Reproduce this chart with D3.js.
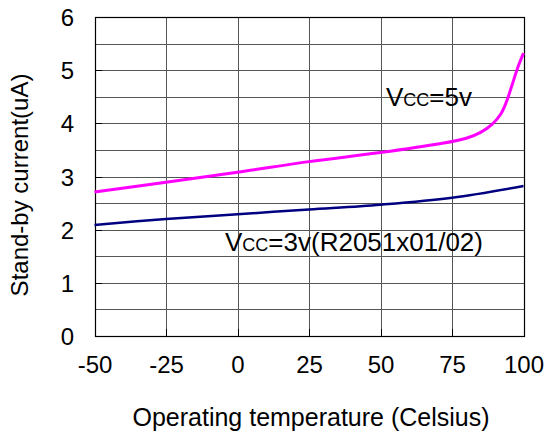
<!DOCTYPE html>
<meta charset="utf-8">
<style>
body { margin: 0; background: #fff; }
text { font-family: "Liberation Sans", Arial, sans-serif; fill: #000; }
.grid line { stroke: #555; stroke-width: 1px; shape-rendering: crispEdges; }
</style>
<body>
<script src="https://cdn.jsdelivr.net/npm/d3@7"></script>
<script>
var xTicks = [-50, -25, 0, 25, 50, 75, 100];
var yTicks = [0, 1, 2, 3, 4, 5, 6];

var temp5v = [-50, -25, 0, 25, 50, 70, 80, 85, 89, 92, 94, 96, 98, 100];
var cur5v  = [2.71, 2.89, 3.08, 3.28, 3.45, 3.61, 3.72, 3.83, 3.98, 4.17, 4.40, 4.72, 5.05, 5.32];

var temp3v = [-50, -25, 0, 25, 50, 75, 100];
var cur3v  = [2.09, 2.20, 2.29, 2.38, 2.47, 2.60, 2.82];

var width = 547, height = 433;
var pLeft = 94.5, pRight = 523.5, pTop = 17, pBottom = 336;

var svg = d3.select("body").append("svg")
    .attr("width", width)
    .attr("height", height);

var x = d3.scaleLinear().domain([-50, 100]).range([pLeft, pRight]);
var y = d3.scaleLinear().domain([0, 6]).range([pBottom, pTop]);

// grid: every half unit and every 25 degrees
var grid = svg.append("g").attr("class", "grid");
grid.selectAll(".h")
    .data(d3.range(0.5, 6, 0.5))
  .enter().append("line")
    .attr("x1", pLeft).attr("x2", pRight)
    .attr("y1", function(d) { return Math.round(y(d)) + 0.5; })
    .attr("y2", function(d) { return Math.round(y(d)) + 0.5; });
grid.selectAll(".v")
    .data(xTicks.slice(1, -1))
  .enter().append("line")
    .attr("y1", pTop).attr("y2", pBottom)
    .attr("x1", function(d) { return Math.round(x(d)) + 0.5; })
    .attr("x2", function(d) { return Math.round(x(d)) + 0.5; });

// small inner ticks
svg.append("g").selectAll("line")
    .data(yTicks.slice(1, -1))
  .enter().append("line")
    .attr("x1", pLeft).attr("x2", pLeft + 7)
    .attr("y1", function(d) { return Math.round(y(d)) + 0.5; })
    .attr("y2", function(d) { return Math.round(y(d)) + 0.5; })
    .attr("stroke", "#000").attr("shape-rendering", "crispEdges");
svg.append("g").selectAll("line")
    .data(xTicks.slice(1, -1))
  .enter().append("line")
    .attr("y1", pBottom).attr("y2", pBottom - 7)
    .attr("x1", function(d) { return Math.round(x(d)) + 0.5; })
    .attr("x2", function(d) { return Math.round(x(d)) + 0.5; })
    .attr("stroke", "#000").attr("shape-rendering", "crispEdges");

svg.append("rect")
    .attr("x", Math.round(pLeft) + 0.5).attr("y", pTop + 0.5)
    .attr("width", Math.round(pRight) - Math.round(pLeft))
    .attr("height", pBottom - pTop)
    .attr("fill", "none").attr("stroke", "#000").attr("stroke-width", 1.2);

// axes
var yAxis = svg.append("g")
    .attr("transform", "translate(" + 74 + ",0)")
    .call(d3.axisLeft(y).tickValues(yTicks).tickFormat(String).tickSize(0).tickPadding(0));
var xAxis = svg.append("g")
    .attr("transform", "translate(0," + 373 + ")")
    .call(d3.axisBottom(x).tickValues(xTicks).tickFormat(String).tickSize(0).tickPadding(0));
[xAxis, yAxis].forEach(function(a) {
  a.select(".domain").remove();
  a.attr("font-size", 24).attr("font-family", "Liberation Sans, Arial, sans-serif");
  a.selectAll("text").attr("fill", "#000");
});
xAxis.selectAll("text").attr("dy", 0);
yAxis.selectAll("text").attr("dy", "0.36em");

// curves
var line = d3.line()
    .x(function(d) { return x(d[0]); })
    .y(function(d) { return y(d[1]); })
    .curve(d3.curveCatmullRom);

svg.append("path")
    .datum(d3.zip(temp3v, cur3v))
    .attr("d", line)
    .attr("fill", "none").attr("stroke", "#000080").attr("stroke-width", 2.5);

svg.append("path")
    .datum(d3.zip(temp5v, cur5v))
    .attr("d", line)
    .attr("fill", "none").attr("stroke", "#ff00ff").attr("stroke-width", 3);

// labels
function label(px, py, tail) {
  var t = svg.append("text").attr("x", px).attr("y", py).attr("font-size", 26);
  t.append("tspan").text("V");
  t.append("tspan").attr("font-size", 18).text("CC");
  t.append("tspan").text(tail);
}
label(386, 106, "=5v");
label(225, 251, "=3v(R2051x01/02)");

svg.append("text")
    .attr("x", 311).attr("y", 426)
    .attr("text-anchor", "middle").attr("font-size", 25)
    .text("Operating temperature (Celsius)");

svg.append("text")
    .attr("transform", "translate(28,185)rotate(-90)")
    .attr("text-anchor", "middle").attr("font-size", 24)
    .text("Stand-by current(uA)");
</script>
